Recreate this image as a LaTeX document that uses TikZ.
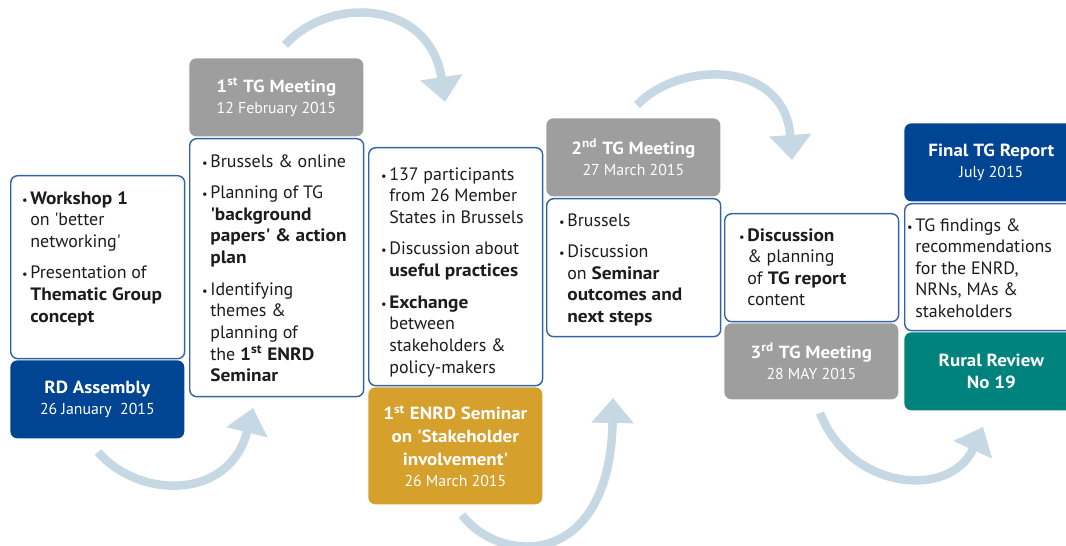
\documentclass[tikz,border=0pt]{standalone}
\usepackage{fontspec}
\setmainfont{PT Sans}[BoldFeatures={FakeStretch=1.08}]
\usetikzlibrary{arrows.meta}

\definecolor{cardline}{RGB}{48,100,162}
\definecolor{eublue}{RGB}{0,68,148}
\definecolor{meetgrey}{RGB}{158,158,158}
\definecolor{seminargold}{RGB}{214,160,44}
\definecolor{reviewteal}{RGB}{0,131,125}
\definecolor{flowblue}{RGB}{197,216,228}
\definecolor{ink}{RGB}{28,28,28}

% text sizes
\newcommand{\listfont}{\fontsize{10.2}{12.3}\selectfont}
\newcommand{\titlefont}{\fontsize{10}{13}\selectfont\bfseries}
\newcommand{\datefont}{\fontsize{9}{11}\selectfont\mdseries}
\newcommand{\itemdot}{\llap{{\scriptsize\textbullet}\hspace{1.5pt}}}
\newcommand{\squote}{\textquotesingle}

\tikzset{
	card/.style={rectangle, rounded corners=4pt, minimum width=3.48cm, anchor=north west, inner sep=0pt},
	notecard/.style={card, draw=cardline, line width=0.8pt, fill=white},
	headcard/.style={card, text=white, align=center, font=\titlefont},
	bullets/.style={anchor=north west, inner sep=0pt, align=left, text=ink, font=\listfont,
		execute at begin node=\rule{0pt}{8pt}},
	flow/.style={draw=flowblue, line width=0.17cm, -{Triangle[width=0.82cm,length=0.5cm]}},
}

\begin{document}
\begin{tikzpicture}[x=0.02cm,y=-0.02cm]
	% page: 1066 x 546, one unit = one pixel, y pointing down
	\useasboundingbox (0,0) rectangle (1066,546);
	\clip (0,0) rectangle (1066,546);
	% curved arrows from stage to stage
	\draw[flow] (98,452) .. controls (140,500) and (230,500) .. (253,408);
	\draw[flow] (285,45) .. controls (330,-5) and (430,0) .. (445,102);
	\draw[flow] (462,515) .. controls (500,565) and (610,570) .. (613,398);
	\draw[flow] (637,105) .. controls (680,60) and (785,60) .. (792,160);
	\draw[flow] (820,413) .. controls (850,490) and (950,500) .. (983,427);
	% stage 1 - workshop, RD assembly
	\node[notecard, minimum height=3.66cm] (wscard) at (10,175) {};
	\node[headcard, fill=eublue, minimum height=1.56cm] (rda) at (10,360)
		{RD Assembly\\[-1pt] \datefont 26 January~ 2015};
	\node[bullets] (wslist) at (30,191)
		{\itemdot\textbf{Workshop 1}\\ on \squote better\\ networking\squote\\[5.7pt]
		 \itemdot Presentation of\\ \textbf{Thematic Group}\\ \textbf{concept}};
	% stage 2 - 1st TG meeting
	\node[headcard, fill=meetgrey, minimum height=1.56cm] (tg1) at (189,58)
		{1\textsuperscript{st} TG Meeting\\[-1pt] \datefont 12 February 2015};
	\node[notecard, minimum height=5.16cm] (tg1card) at (189,138) {};
	\node[bullets] (tg1list) at (210,154)
		{\itemdot Brussels \& online\\[5.7pt]
		 \itemdot Planning of TG\\ \textbf{\squote background}\\ \textbf{papers\squote\ \& action}\\ \textbf{plan}\\[5.7pt]
		 \itemdot Identifying\\ themes \&\\ planning of\\ the \textbf{1\textsuperscript{st} ENRD}\\ \textbf{Seminar}};
	% stage 3 - 1st ENRD seminar
	\node[notecard, minimum height=4.76cm] (semcard) at (368,147) {};
	\node[headcard, fill=seminargold, minimum height=2.34cm] (sem) at (368,387)
		{1\textsuperscript{st} ENRD Seminar\\ on \squote Stakeholder\\ involvement\squote\\[-1pt] \datefont 26 March 2015};
	\node[bullets] (semlist) at (389,167)
		{\itemdot 137 participants\\ from 26 Member\\ States in Brussels\\[5.7pt]
		 \itemdot Discussion about\\ \textbf{useful practices}\\[5.7pt]
		 \itemdot\textbf{Exchange}\\ between\\ stakeholders \&\\ policy-makers};
	% stage 4 - 2nd TG meeting
	\node[headcard, fill=meetgrey, minimum height=1.56cm] (tg2) at (546,118)
		{2\textsuperscript{nd} TG Meeting\\[-1pt] \datefont 27 March 2015};
	\node[notecard, minimum height=2.76cm] (tg2card) at (546,198) {};
	\node[bullets] (tg2list) at (567,213)
		{\itemdot Brussels\\[5.7pt]
		 \itemdot Discussion\\ on \textbf{Seminar}\\ \textbf{outcomes and}\\ \textbf{next steps}};
	% stage 5 - 3rd TG meeting
	\node[notecard, minimum height=2.16cm] (tg3card) at (724,213) {};
	\node[headcard, fill=meetgrey, minimum height=1.52cm] (tg3) at (724,323)
		{3\textsuperscript{rd} TG Meeting\\[-1pt] \datefont 28 MAY 2015};
	\node[bullets] (tg3list) at (747,228)
		{\itemdot\textbf{Discussion}\\ \& planning\\ of \textbf{TG report}\\ content};
	% stage 6 - final report, rural review
	\node[headcard, fill=eublue, minimum height=1.56cm] (final) at (904,123)
		{Final TG Report\\[-1pt] \datefont July 2015};
	\node[notecard, minimum height=2.54cm] (finalcard) at (904,203) {};
	\node[headcard, fill=reviewteal, minimum height=1.56cm] (review) at (904,332)
		{Rural Review\\ No 19};
	\node[bullets] (finallist) at (915,218)
		{\itemdot TG findings \&\\ recommendations\\ for the ENRD,\\ NRNs, MAs \&\\ stakeholders};
\end{tikzpicture}
\end{document}
